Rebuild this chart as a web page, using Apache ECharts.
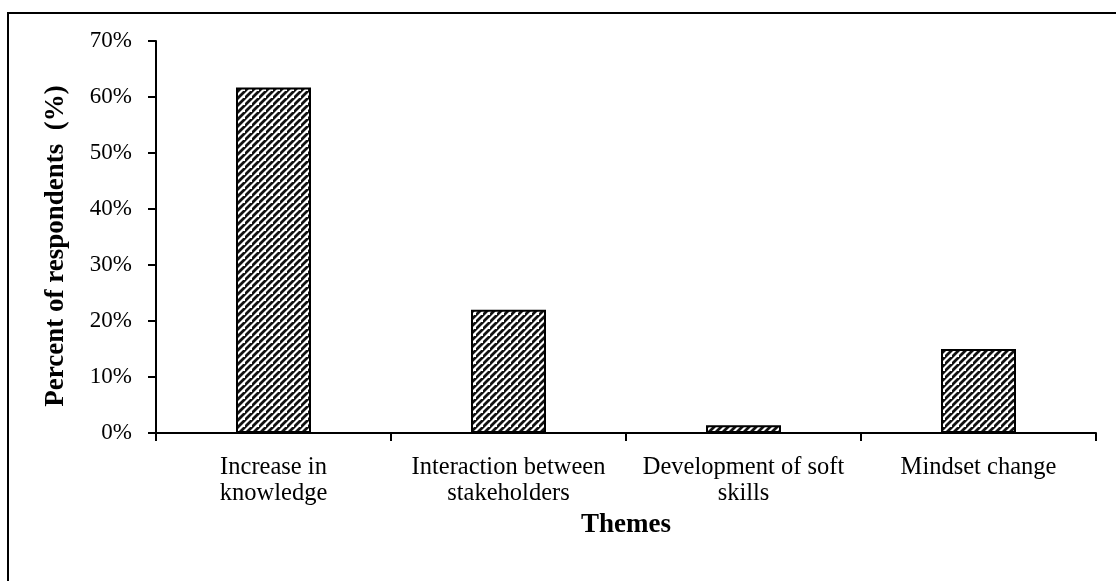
<!DOCTYPE html>
<html>
<head>
<meta charset="utf-8">
<script src="https://cdn.jsdelivr.net/npm/echarts@6/dist/echarts.min.js"></script>
<style>
html,body{margin:0;padding:0;background:#fff;}
#chart{width:1116px;height:581px;}
</style>
</head>
<body>
<div id="chart"></div>
<script>
const categories = ["Increase in\nknowledge", "Interaction between\nstakeholders", "Development of soft\nskills", "Mindset change"];
const values = [61.7, 22.0, 1.4, 15.0];
const yTicks = { min: 0, max: 70, interval: 10 };
const xTitle = "Themes";
const yTitle = "Percent of respondents  (%)";

function makePattern() {
  const c = document.createElement('canvas');
  const s = 7;
  c.width = s; c.height = s;
  const ctx = c.getContext('2d');
  ctx.fillStyle = '#ffffff';
  ctx.fillRect(0, 0, s, s);
  ctx.strokeStyle = '#111';
  ctx.lineWidth = 2.8;
  ctx.beginPath();
  ctx.moveTo(-1, s + 1); ctx.lineTo(s + 1, -1);
  ctx.moveTo(-1 - s, s + 1); ctx.lineTo(1, -1);
  ctx.moveTo(s - 1, 2 * s + 1); ctx.lineTo(2 * s + 1, s - 1);
  ctx.stroke();
  return c;
}

const font = "'Liberation Serif', 'Times New Roman', serif";
const chart = echarts.init(document.getElementById('chart'), null, { renderer: 'canvas' });
chart.setOption({
  backgroundColor: '#ffffff',
  animation: false,
  textStyle: { fontFamily: font, color: '#000' },
  grid: { left: 156, right: 20, top: 41, bottom: 148, containLabel: false },
  graphic: [{
    type: 'rect',
    shape: { x: 8, y: 13, width: 1130, height: 600 },
    style: { fill: 'none', stroke: '#000', lineWidth: 2 },
    silent: true
  }],
  xAxis: {
    type: 'category',
    data: categories,
    name: xTitle,
    nameLocation: 'middle',
    nameGap: 70,
    nameTextStyle: { fontFamily: font, fontSize: 27, fontWeight: 'bold', color: '#000' },
    axisLine: { lineStyle: { color: '#000', width: 2 } },
    axisTick: { show: true, length: 8, lineStyle: { color: '#000', width: 2 }, alignWithLabel: false },
    axisLabel: { fontFamily: font, fontSize: 24.5, color: '#000', margin: 22, lineHeight: 26, interval: 0 },
    splitLine: { show: false }
  },
  yAxis: {
    type: 'value',
    min: yTicks.min, max: yTicks.max, interval: yTicks.interval,
    name: yTitle,
    nameLocation: 'middle',
    nameGap: 86,
    nameRotate: 90,
    nameTextStyle: { fontFamily: font, fontSize: 27, fontWeight: 'bold', color: '#000', padding: [0, 18, 0, 0] },
    axisLine: { show: true, lineStyle: { color: '#000', width: 2 } },
    axisTick: { show: true, length: 8, inside: false, lineStyle: { color: '#000', width: 2 } },
    axisLabel: { fontFamily: font, fontSize: 23, color: '#000', margin: 24, formatter: '{value}%' },
    splitLine: { show: false }
  },
  series: [{
    type: 'bar',
    data: values,
    barWidth: 75,
    itemStyle: {
      color: { image: makePattern(), repeat: 'repeat' },
      borderColor: '#000',
      borderWidth: 2
    }
  }]
});
</script>
</body>
</html>
